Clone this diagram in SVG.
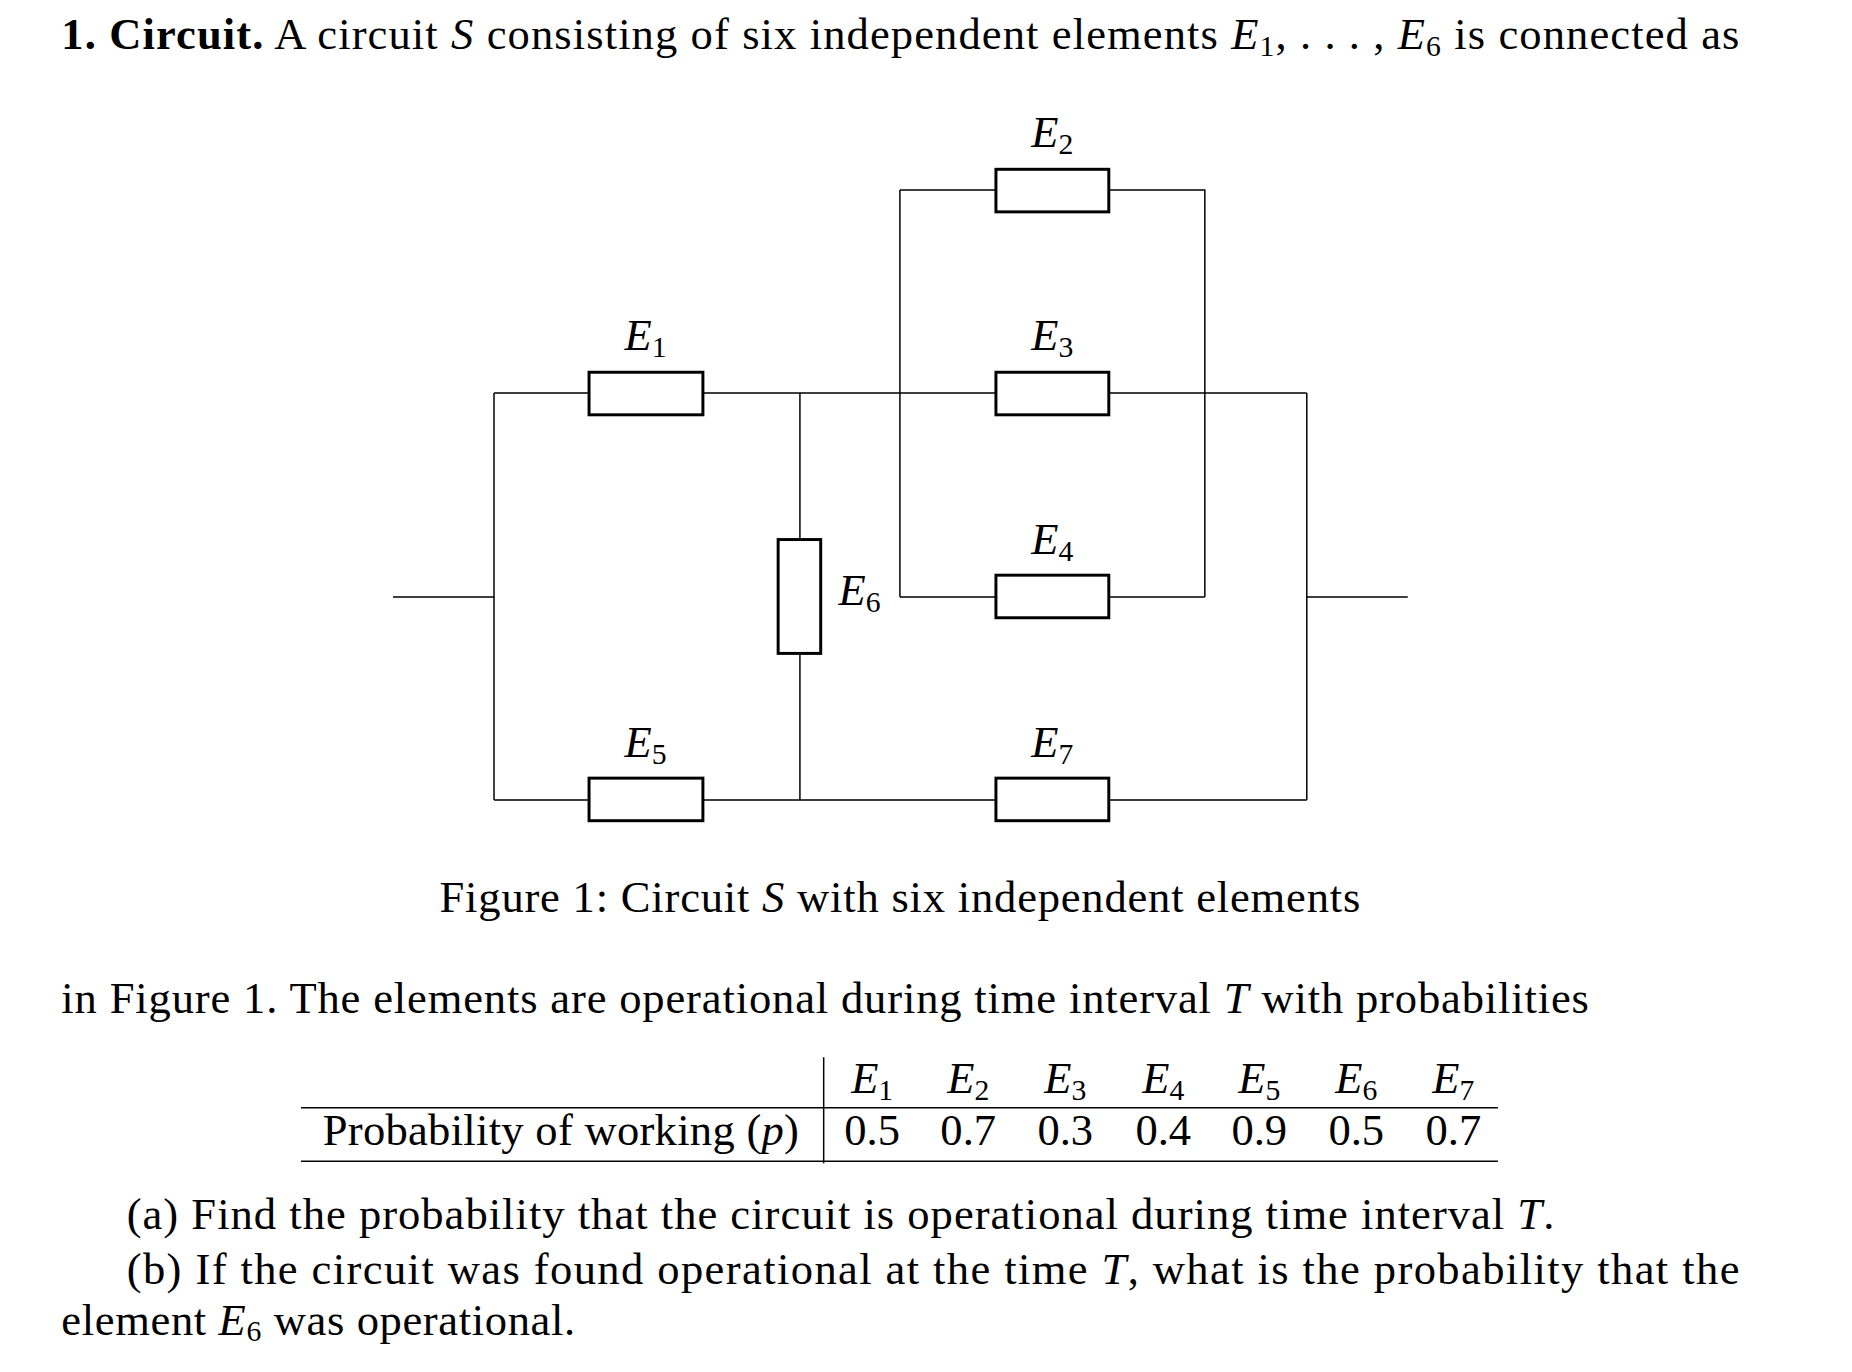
<svg xmlns="http://www.w3.org/2000/svg" width="1852" height="1372" viewBox="0 0 1852 1372">
<style>
text{font-family:"Liberation Serif","DejaVu Serif",serif;font-size:45px;fill:#000}
.i{font-style:italic}
.s{font-size:30px}
.b{font-weight:bold}
.el{fill:#fff;stroke:#000;stroke-width:3}
.w{fill:none;stroke:#000;stroke-width:1.5}
.lab{text-anchor:middle}
</style>
<rect width="1852" height="1372" fill="#fff"/>
<g transform="scale(0.99)">
<text x="62" y="50" textLength="1695" lengthAdjust="spacing"><tspan class="b">1. Circuit.</tspan>  A circuit <tspan class="i">S</tspan> consisting of six independent elements <tspan class="i">E</tspan><tspan class="s" dy="7">1</tspan><tspan dy="-7">, . . . , </tspan><tspan class="i">E</tspan><tspan class="s" dy="7">6</tspan><tspan dy="-7"> is connected as</tspan></text>
<g id="connectors">
<path class="w" d="M397 603H499M499 397V808M499 397H595M710 397H1006M1120 397H1320M808 397V545M808 660V808M499 808H595M710 808H1006M1120 808H1320M1320 397V808M1320 603H1422M909 192V603M909 192H1006M1120 192H1217V603M909 603H1006M1120 603H1217"/>
</g>
<g id="E1"><rect class="el" x="595" y="376" width="115" height="43"/><text class="lab" x="652" y="354"><tspan class="i">E</tspan><tspan class="s" dy="7">1</tspan></text></g>
<g id="E2"><rect class="el" x="1006" y="171" width="114" height="43"/><text class="lab" x="1063" y="149"><tspan class="i">E</tspan><tspan class="s" dy="7">2</tspan></text></g>
<g id="E3"><rect class="el" x="1006" y="376" width="114" height="43"/><text class="lab" x="1063" y="354"><tspan class="i">E</tspan><tspan class="s" dy="7">3</tspan></text></g>
<g id="E4"><rect class="el" x="1006" y="581" width="114" height="43"/><text class="lab" x="1063" y="560"><tspan class="i">E</tspan><tspan class="s" dy="7">4</tspan></text></g>
<g id="E5"><rect class="el" x="595" y="786" width="115" height="43"/><text class="lab" x="652" y="765"><tspan class="i">E</tspan><tspan class="s" dy="7">5</tspan></text></g>
<g id="E6"><rect class="el" x="786" y="545" width="43" height="115"/><text x="847" y="611"><tspan class="i">E</tspan><tspan class="s" dy="7">6</tspan></text></g>
<g id="E7"><rect class="el" x="1006" y="786" width="114" height="43"/><text class="lab" x="1063" y="765"><tspan class="i">E</tspan><tspan class="s" dy="7">7</tspan></text></g>
<text x="444" y="921" textLength="930" lengthAdjust="spacing">Figure 1:  Circuit <tspan class="i">S</tspan> with six independent elements</text>
<text x="62" y="1023" textLength="1543" lengthAdjust="spacing">in Figure 1. The elements are operational during time interval <tspan class="i">T</tspan> with probabilities</text>
<g id="table">
<path class="w" d="M832 1068V1175M304 1119H1513M304 1173H1513"/>
<g class="lab">
<text x="881" y="1104"><tspan class="i">E</tspan><tspan class="s" dy="7">1</tspan></text>
<text x="978" y="1104"><tspan class="i">E</tspan><tspan class="s" dy="7">2</tspan></text>
<text x="1076" y="1104"><tspan class="i">E</tspan><tspan class="s" dy="7">3</tspan></text>
<text x="1175" y="1104"><tspan class="i">E</tspan><tspan class="s" dy="7">4</tspan></text>
<text x="1272" y="1104"><tspan class="i">E</tspan><tspan class="s" dy="7">5</tspan></text>
<text x="1370" y="1104"><tspan class="i">E</tspan><tspan class="s" dy="7">6</tspan></text>
<text x="1468" y="1104"><tspan class="i">E</tspan><tspan class="s" dy="7">7</tspan></text>
<text x="881" y="1157">0.5</text><text x="978" y="1157">0.7</text><text x="1076" y="1157">0.3</text><text x="1175" y="1157">0.4</text><text x="1272" y="1157">0.9</text><text x="1370" y="1157">0.5</text><text x="1468" y="1157">0.7</text>
</g>
<text x="326" y="1157" textLength="481" lengthAdjust="spacing">Probability of working (<tspan class="i">p</tspan>)</text>
</g>
<text x="128" y="1241" textLength="1442" lengthAdjust="spacing">(a) Find the probability that the circuit is operational during time interval <tspan class="i">T</tspan>.</text>
<text x="128" y="1297" textLength="1629" lengthAdjust="spacing">(b) If the circuit was found operational at the time <tspan class="i">T</tspan>, what is the probability that the</text>
<text x="62" y="1348" textLength="519" lengthAdjust="spacing">element <tspan class="i">E</tspan><tspan class="s" dy="7">6</tspan><tspan dy="-7"> was operational.</tspan></text>
</g>
</svg>
